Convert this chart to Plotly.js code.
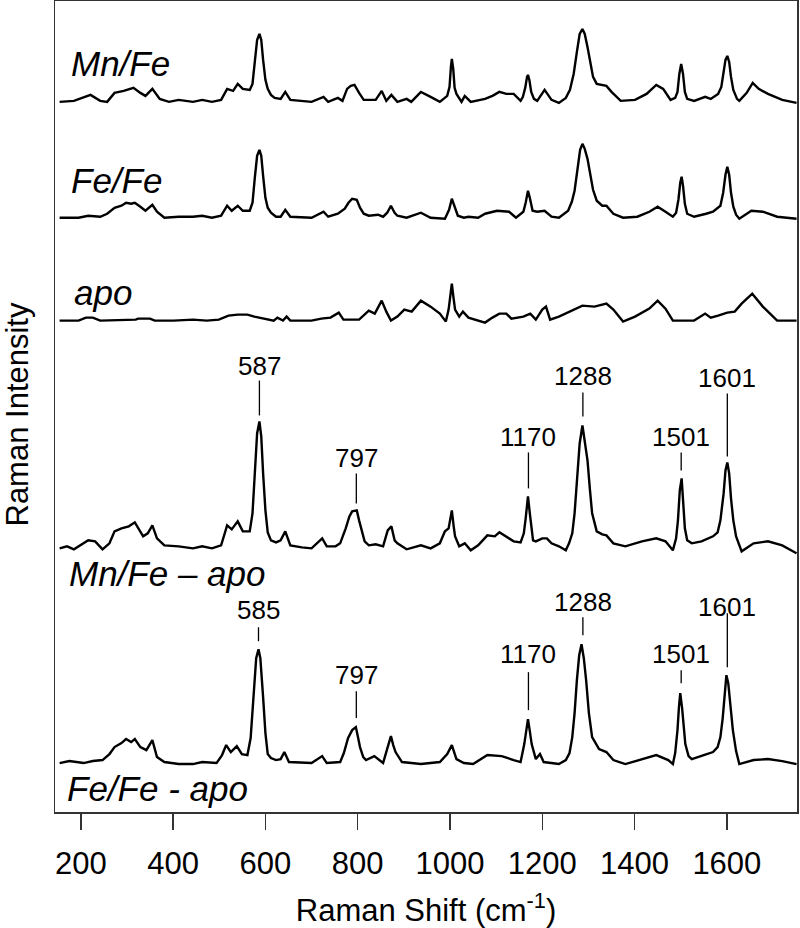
<!DOCTYPE html>
<html>
<head>
<meta charset="utf-8">
<script src="https://cdn.plot.ly/plotly-3.0.1.min.js"></script>
<style>
  body { margin: 0; background: #fff; }
  #chart { width: 800px; height: 928px; }
</style>
</head>
<body>
<div id="chart"></div>
<script>
// spectra as [wavenumber, intensity above own baseline]
const mnFe = [[154,0],[185,1],[221,7],[242,1],[257,0],[273,9],[293,11],[314,14],[329,9],[340,6],[355,13],[371,3],[391,0],[412,2],[443,0],[463,2],[484,0],[504,2],[517,13],[530,11],[540,18],[551,13],[566,12],[572,18],[577,40],[582,62],[587,68],[591,62],[595,42],[600,22],[605,13],[612,7],[620,4],[633,3],[643,10],[654,2],[700,0],[726,5],[736,0],[757,4],[767,1],[777,13],[785,16],[793,17],[803,9],[813,2],[839,2],[852,11],[862,1],[873,7],[886,0],[906,3],[916,0],[937,10],[958,5],[978,0],[994,6],[999,15],[1002,35],[1004,43],[1007,33],[1010,14],[1014,8],[1025,0],[1032,6],[1045,0],[1076,3],[1092,6],[1107,10],[1122,8],[1138,8],[1153,1],[1158,5],[1163,14],[1167,25],[1169,27],[1172,22],[1176,10],[1182,3],[1189,1],[1205,12],[1220,2],[1236,-1],[1251,4],[1260,12],[1268,28],[1275,50],[1281,68],[1287,73],[1292,68],[1298,55],[1304,38],[1310,25],[1318,18],[1330,17],[1339,16],[1350,10],[1370,1],[1401,2],[1426,8],[1447,17],[1462,13],[1478,2],[1488,4],[1493,10],[1497,28],[1501,38],[1505,28],[1509,10],[1514,3],[1529,1],[1553,5],[1565,3],[1581,8],[1588,15],[1593,30],[1597,42],[1601,46],[1605,40],[1609,25],[1614,12],[1622,3],[1627,1],[1643,9],[1656,19],[1669,13],[1689,8],[1720,2],[1751,-1]];

const feFe = [[154,0],[195,0],[216,2],[242,1],[257,4],[273,10],[288,12],[298,15],[309,14],[317,15],[329,11],[340,7],[355,13],[365,6],[381,0],[412,1],[443,1],[463,2],[484,0],[504,2],[517,12],[527,7],[540,12],[551,7],[566,7],[572,15],[577,40],[582,62],[587,68],[591,62],[595,42],[600,20],[605,10],[612,5],[623,1],[633,1],[643,8],[654,1],[700,0],[726,6],[736,1],[757,4],[772,9],[780,15],[788,19],[798,18],[805,10],[813,4],[824,2],[844,3],[855,1],[864,5],[872,12],[880,5],[886,2],[906,0],[937,5],[958,0],[989,-1],[998,8],[1004,19],[1010,10],[1017,2],[1030,0],[1040,1],[1061,0],[1076,4],[1102,7],[1128,6],[1143,0],[1159,6],[1164,15],[1169,27],[1173,20],[1179,7],[1189,6],[1205,7],[1220,1],[1236,0],[1256,7],[1264,16],[1270,27],[1276,47],[1282,68],[1287,74],[1292,69],[1298,59],[1304,42],[1310,28],[1318,17],[1330,12],[1339,12],[1354,4],[1375,0],[1406,1],[1432,6],[1450,11],[1467,6],[1483,1],[1490,5],[1495,18],[1499,35],[1502,41],[1505,32],[1509,14],[1514,4],[1529,1],[1555,4],[1570,6],[1586,12],[1592,25],[1597,43],[1601,51],[1605,43],[1609,25],[1614,11],[1620,3],[1627,-1],[1653,7],[1678,6],[1709,1],[1751,-1]];

const apo = [[154,0],[195,0],[211,3],[226,3],[242,0],[319,1],[324,2],[350,2],[360,0],[401,0],[443,1],[473,0],[499,1],[520,5],[540,6],[561,6],[576,4],[597,2],[618,0],[626,3],[638,0],[646,4],[654,0],[700,0],[721,2],[741,3],[759,8],[769,1],[803,1],[824,10],[837,7],[852,20],[862,9],[872,0],[886,4],[901,11],[917,9],[937,20],[958,14],[978,7],[991,-1],[997,11],[1001,25],[1004,37],[1007,25],[1011,11],[1020,4],[1028,9],[1040,3],[1076,-2],[1092,3],[1107,7],[1122,7],[1133,2],[1159,4],[1174,7],[1186,1],[1200,11],[1208,14],[1217,1],[1236,4],[1267,11],[1287,15],[1313,14],[1339,17],[1354,11],[1375,-1],[1401,4],[1432,12],[1450,20],[1467,12],[1483,0],[1529,0],[1553,7],[1565,3],[1581,5],[1601,8],[1617,9],[1632,17],[1655,27],[1678,14],[1709,0],[1751,0]];

const mnFeMinusApo = [[154,0],[170,2],[185,-1],[216,8],[231,7],[247,-1],[262,5],[273,17],[288,20],[304,22],[317,26],[324,20],[335,12],[345,15],[355,23],[365,10],[381,3],[412,2],[443,0],[463,2],[484,0],[504,3],[517,23],[527,19],[540,27],[551,17],[566,17],[572,35],[577,75],[582,115],[587,127],[591,112],[595,75],[600,38],[605,16],[612,8],[623,6],[633,8],[643,17],[654,3],[679,1],[700,0],[723,10],[733,2],[752,2],[762,5],[774,20],[782,32],[788,37],[798,38],[803,28],[808,18],[815,7],[824,3],[839,4],[855,2],[865,18],[873,22],[880,8],[886,5],[906,-1],[937,3],[958,0],[978,5],[989,17],[997,20],[1004,38],[1008,22],[1011,12],[1020,2],[1032,5],[1045,-2],[1061,3],[1081,13],[1097,12],[1107,16],[1122,12],[1138,7],[1153,6],[1160,15],[1164,30],[1169,52],[1173,35],[1176,22],[1180,8],[1186,7],[1200,10],[1210,10],[1220,5],[1236,2],[1251,-2],[1258,5],[1265,15],[1270,35],[1275,65],[1281,105],[1287,123],[1292,108],[1298,88],[1303,60],[1308,35],[1318,17],[1330,14],[1339,13],[1354,5],[1380,2],[1416,7],[1447,10],[1467,7],[1483,-2],[1490,10],[1494,28],[1498,58],[1502,70],[1506,45],[1509,20],[1514,8],[1524,5],[1545,7],[1570,12],[1580,16],[1586,28],[1593,55],[1597,78],[1601,86],[1605,75],[1609,50],[1614,28],[1620,12],[1632,-3],[1658,5],[1689,7],[1720,3],[1751,-5]];

const feFeMinusApo = [[154,0],[175,2],[206,0],[226,2],[247,3],[262,9],[273,16],[288,20],[298,24],[309,21],[317,24],[329,16],[342,13],[355,23],[365,6],[381,1],[412,-1],[443,-1],[463,1],[494,0],[506,8],[515,18],[525,11],[538,17],[549,9],[561,8],[568,25],[574,66],[580,105],[585,114],[589,105],[595,66],[600,30],[605,9],[612,5],[623,3],[633,4],[641,11],[651,1],[700,0],[723,7],[733,0],[762,1],[770,10],[779,25],[788,33],[796,36],[801,25],[805,16],[812,6],[818,3],[836,7],[855,0],[865,16],[872,27],[877,18],[882,11],[896,1],[937,-1],[978,1],[994,9],[1004,18],[1014,4],[1030,0],[1050,-1],[1081,8],[1112,7],[1138,3],[1153,1],[1161,19],[1165,32],[1169,44],[1173,32],[1177,19],[1186,4],[1195,9],[1203,1],[1236,-1],[1251,3],[1259,10],[1265,26],[1270,50],[1275,83],[1280,108],[1285,119],[1290,105],[1295,83],[1301,50],[1308,26],[1323,14],[1339,11],[1354,3],[1380,-1],[1411,3],[1447,8],[1473,3],[1483,-1],[1488,10],[1493,33],[1496,55],[1499,70],[1503,55],[1506,35],[1510,19],[1517,7],[1524,4],[1550,8],[1570,11],[1580,16],[1586,26],[1591,45],[1595,70],[1599,88],[1603,80],[1608,55],[1613,33],[1620,12],[1627,-1],[1658,3],[1689,4],[1720,2],[1751,-1]];

const spectra = [mnFe, feFe, apo, mnFeMinusApo, feFeMinusApo];
const spectrumNames = ['Mn/Fe', 'Fe/Fe', 'apo', 'Mn/Fe \u2013 apo', 'Fe/Fe - apo'];
const stackOffset = [711, 595, 492, 264, 49];

const tickValues = [200, 400, 600, 800, 1000, 1200, 1400, 1600];

// peak labels: wavenumber, text y, line top, line bottom (same units as the y axis)
const peaksMnFe = [587, 797, 1170, 1288, 1501, 1601];
const peaksMnFeText = [447, 354, 375, 437, 375, 435];
const peaksMnFeLine = [[432, 397], [339, 309], [360, 324], [420, 396], [360, 342], [419, 356]];
const peaksFeFe = [585, 797, 1170, 1288, 1501, 1601];
const peaksFeFeText = [202, 137, 158, 210, 158, 205];
const peaksFeFeLine = [[185, 171], [121, 94], [140, 102], [195, 177], [142, 129], [199, 145]];

const nameX = [175, 175, 180, 169, 165];
const nameY = [749, 632, 520, 239, 24];

const FONT = 'Arial, "Liberation Sans", sans-serif';

const traces = spectra.map((s, i) => ({
	x: s.map(p => p[0]),
	y: s.map(p => p[1] + stackOffset[i]),
	type: 'scatter',
	mode: 'lines',
	name: spectrumNames[i],
	line: {color: '#000', width: 2.4},
	hoverinfo: 'skip',
}));

const shapes = [];
const annotations = [];

function addPeakLabels(peaks, textY, lines) {
	peaks.forEach((p, i) => {
		shapes.push({
			type: 'line', xref: 'x', yref: 'y',
			x0: p, x1: p, y0: lines[i][0], y1: lines[i][1],
			line: {color: '#000', width: 1.3},
		});
		annotations.push({
			x: p, y: textY[i], xref: 'x', yref: 'y',
			text: String(p), showarrow: false,
			font: {family: FONT, size: 26, color: '#000'},
		});
	});
}

addPeakLabels(peaksMnFe, peaksMnFeText, peaksMnFeLine);
addPeakLabels(peaksFeFe, peaksFeFeText, peaksFeFeLine);

spectrumNames.forEach((n, i) => {
	annotations.push({
		x: nameX[i], y: nameY[i], xref: 'x', yref: 'y',
		text: '<i>' + n + '</i>', showarrow: false, xanchor: 'left',
		font: {family: FONT, size: 35, color: '#000'},
	});
});

// y title drawn as a rotated note so it can sit close to the page edge
annotations.push({
	x: -0.05, y: 0.49, xref: 'paper', yref: 'paper',
	xanchor: 'center', yanchor: 'middle',
	text: 'Raman Intensity', textangle: -90, showarrow: false,
	font: {family: FONT, size: 31, color: '#000'},
});

const layout = {
	width: 800,
	height: 928,
	margin: {l: 55, r: 3, t: 1, b: 116},
	paper_bgcolor: '#fff',
	plot_bgcolor: '#fff',
	showlegend: false,
	font: {family: FONT, color: '#000'},
	xaxis: {
		range: [144, 1752],
		tickvals: tickValues,
		ticks: 'outside', ticklen: 16, tickwidth: 1.5, tickcolor: '#333',
		ticklabelstandoff: 7,
		showline: true, linecolor: '#333', linewidth: 1.5, mirror: true,
		showgrid: false, zeroline: false,
		tickfont: {family: FONT, size: 31, color: '#000'},
		title: {text: 'Raman Shift (cm<sup>-1</sup>)', font: {family: FONT, size: 31, color: '#000'}, standoff: 20},
	},
	yaxis: {
		range: [0, 812],
		showticklabels: false, ticks: '',
		showline: true, linecolor: '#333', linewidth: 1.5, mirror: true,
		showgrid: false, zeroline: false,
	},
	shapes: shapes,
	annotations: annotations,
};

Plotly.newPlot('chart', traces, layout, {displayModeBar: false, staticPlot: true});
</script>
</body>
</html>
